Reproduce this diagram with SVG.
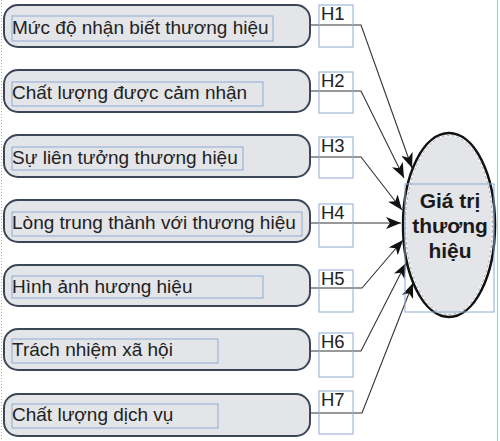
<svg xmlns="http://www.w3.org/2000/svg" width="500" height="441" viewBox="0 0 500 441">
<defs>
<style>
.box{fill:#e4e5e8;stroke:#3b4657;stroke-width:2}
.frame{fill:none;stroke:#8eaad6;stroke-width:1}
.lbl{font-family:"Liberation Sans",Arial,sans-serif;font-size:19px;fill:#222}
.h{font-family:"Liberation Sans",Arial,sans-serif;font-size:18.5px;fill:#222}
.conn{fill:none;stroke:#333;stroke-width:1.1}
.ct{font-family:"Liberation Sans",Arial,sans-serif;font-size:21px;font-weight:bold;fill:#1a1a1a;text-anchor:middle}
</style>
<marker id="arr" markerUnits="userSpaceOnUse" markerWidth="16" markerHeight="12" refX="15" refY="6" orient="auto">
<path d="M0,0 L15,6 L0,12 L4,6 z" fill="#111"/>
</marker>
</defs>
<rect width="500" height="441" fill="#fff"/>
<line x1="1.5" y1="0" x2="1.5" y2="441" stroke="#9bb3d6" stroke-width="1" stroke-dasharray="1 2"/>
<line x1="497.5" y1="0" x2="497.5" y2="441" stroke="#7ee8b0" stroke-width="1.2"/>

<g id="connectors">
<polyline class="conn" points="310,25 361,25 412,168" marker-end="url(#arr)"/>
<polyline class="conn" points="310,91 361,91 404,178" marker-end="url(#arr)"/>
<polyline class="conn" points="310,157 361,157 402,210" marker-end="url(#arr)"/>
<polyline class="conn" points="310,223 401,223" marker-end="url(#arr)"/>
<polyline class="conn" points="310,288 362,288 403,240" marker-end="url(#arr)"/>
<polyline class="conn" points="310,351 361,351 406,263" marker-end="url(#arr)"/>
<polyline class="conn" points="310,413 362,413 413,283" marker-end="url(#arr)"/>
</g>

<g id="n1">
<rect class="box" x="4" y="5" width="306" height="42" rx="14"/>
<rect class="frame" x="12" y="16" width="261" height="25"/>
<text class="lbl" x="12" y="34">Mức độ nhận biết thương hiệu</text>
<rect class="frame" x="319" y="5" width="34" height="42"/>
<text class="h" x="321" y="20">H1</text>
</g>
<g id="n2">
<rect class="box" x="4" y="70" width="306" height="42" rx="14"/>
<rect class="frame" x="12" y="82" width="251" height="24"/>
<text class="lbl" x="12" y="99">Chất lượng được cảm nhận</text>
<rect class="frame" x="319" y="72" width="34" height="41"/>
<text class="h" x="321" y="87">H2</text>
</g>
<g id="n3">
<rect class="box" x="4" y="135" width="306" height="42" rx="14"/>
<rect class="frame" x="12" y="147" width="231" height="23"/>
<text class="lbl" x="12" y="164">Sự liên tưởng thương hiệu</text>
<rect class="frame" x="319" y="137" width="34" height="41"/>
<text class="h" x="321" y="152">H3</text>
</g>
<g id="n4">
<rect class="box" x="4" y="200" width="306" height="42" rx="14"/>
<rect class="frame" x="12" y="212" width="290" height="24"/>
<text class="lbl" x="12" y="229">Lòng trung thành với thương hiệu</text>
<rect class="frame" x="319" y="204" width="34" height="43"/>
<text class="h" x="321" y="219">H4</text>
</g>
<g id="n5">
<rect class="box" x="4" y="265" width="306" height="41" rx="14"/>
<rect class="frame" x="12" y="276" width="251" height="22"/>
<text class="lbl" x="12" y="293">Hình ảnh hương hiệu</text>
<rect class="frame" x="319" y="270" width="34" height="42"/>
<text class="h" x="321" y="285">H5</text>
</g>
<g id="n6">
<rect class="box" x="4" y="329" width="306" height="41" rx="14"/>
<rect class="frame" x="12" y="339" width="206" height="24"/>
<text class="lbl" x="12" y="356">Trách nhiệm xã hội</text>
<rect class="frame" x="319" y="333" width="34" height="44"/>
<text class="h" x="321" y="348">H6</text>
</g>
<g id="n7">
<rect class="box" x="4" y="394" width="306" height="42" rx="14"/>
<rect class="frame" x="12" y="404" width="206" height="24"/>
<text class="lbl" x="12" y="421">Chất lượng dịch vụ</text>
<rect class="frame" x="319" y="391" width="34" height="43"/>
<text class="h" x="321" y="406">H7</text>
</g>

<g id="center">
<ellipse cx="449" cy="225" rx="46" ry="92" fill="#e4e5e8" stroke="#111" stroke-width="2.5"/>
<ellipse cx="449" cy="225" rx="43.5" ry="89.5" fill="none" stroke="#fff" stroke-width="1.5"/>
<ellipse cx="449" cy="225" rx="43.5" ry="89.5" fill="none" stroke="#888" stroke-width="0.7" stroke-dasharray="3 2"/>
<rect class="frame" x="405" y="184" width="89" height="128"/>
<text class="ct" x="450" y="208">Giá trị</text>
<text class="ct" x="450" y="233">thương</text>
<text class="ct" x="450" y="258">hiệu</text>
</g>
</svg>
